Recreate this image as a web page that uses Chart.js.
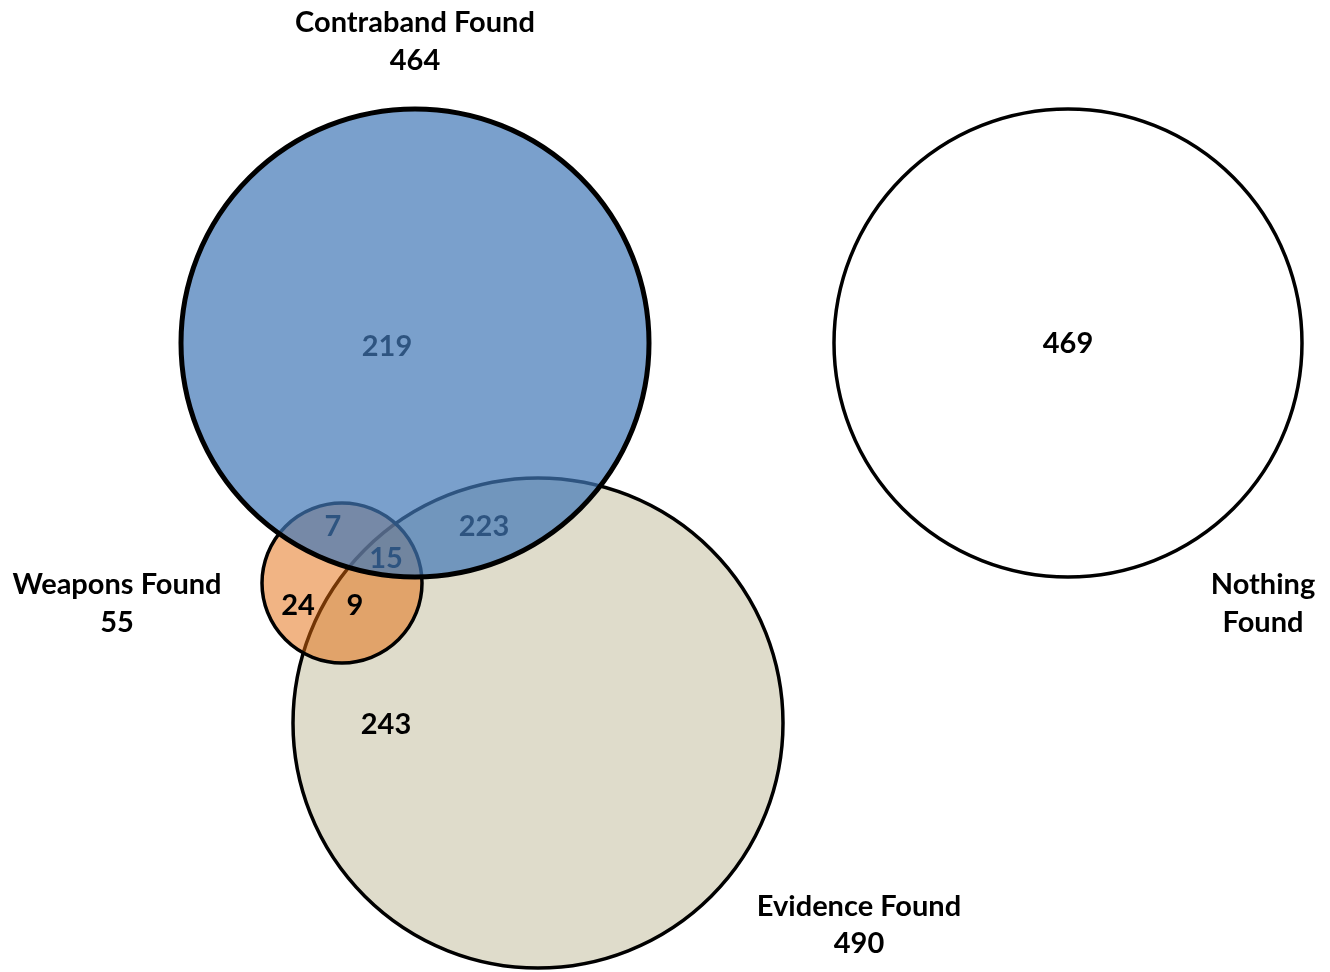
<!DOCTYPE html>
<html>
<head>
<meta charset="utf-8">
<script src="https://cdn.jsdelivr.net/npm/chart.js@4/dist/chart.umd.min.js"></script>
<style>
    body { margin: 0; background: #fff; }
    #wrap { width: 1330px; height: 972px; }
</style>
</head>
<body>
<div id="wrap"><canvas id="venn" width="1330" height="972"></canvas></div>
<script>
// sets and their totals
const setNames = ["Contraband Found", "Weapons Found", "Evidence Found", "Nothing Found"];
const setTotals = [464, 55, 490, 469];

// counts per region of the diagram
const regionNames = ["Contraband only", "Contraband + Weapons", "All three", "Contraband + Evidence",
    "Weapons only", "Weapons + Evidence", "Evidence only", "Nothing"];
const regionCounts = [219, 7, 15, 223, 24, 9, 243, 469];

// layout (chart units, the axes run 0..1330 and 0..972)
const circles = [
    { x: 415, y: 343, r: 234 },
    { x: 342, y: 583, r: 80 },
    { x: 538, y: 723, r: 245 },
    { x: 1068, y: 343, r: 234 }
];
const regionSpots = [
    [387, 347], [333, 527], [386, 559], [484, 527],
    [298, 606], [355, 606], [386, 725], [1068, 344]
];
const titleSpots = [
    [415, 23, 61], [117, 585, 623], [859, 907, 944], [1263, 585, 623]
];

const fills = ["rgba(65,119,182,0.7)", "rgba(227,105,9,0.5)", "#dfdccb", "#ffffff"];
const borders = [5, 3.5, 3.5, 3.5];
const drawOrder = [0, 1, 2, 3];

const FONT = "bold 29px Lato, 'Open Sans', sans-serif";

// bubble radius is in pixels, so convert from axis units
// (resolved at parse time, before the scales have pixels, so use the chart width)
function radiusFor(i) {
    return function (ctx) {
        const o = ctx.chart.options.scales.x;
        return circles[i].r * ctx.chart.width / (o.max - o.min);
    };
}

const labelsPlugin = {
    id: "vennLabels",
    afterDatasetDraw(chart, args) {
        // region counts go under the blue layer, like the original
        if (args.index !== 1) return;
        const c = chart.ctx;
        const sx = chart.scales.x, sy = chart.scales.y;
        c.save();
        c.font = FONT;
        c.fillStyle = "#000";
        c.textAlign = "center";
        c.textBaseline = "middle";
        regionCounts.forEach(function (n, i) {
            c.fillText(String(n), sx.getPixelForValue(regionSpots[i][0]), sy.getPixelForValue(regionSpots[i][1]));
        });
        c.restore();
    },
    afterDatasetsDraw(chart) {
        const c = chart.ctx;
        const sx = chart.scales.x, sy = chart.scales.y;
        c.save();
        c.font = FONT;
        c.fillStyle = "#000";
        c.textAlign = "center";
        c.textBaseline = "middle";
        setNames.forEach(function (name, i) {
            const p = titleSpots[i];
            let first = name, second = String(setTotals[i]);
            if (i === 3) {
                // "Nothing Found" has no total shown, split over two lines
                first = "Nothing";
                second = "Found";
            }
            c.fillText(first, sx.getPixelForValue(p[0]), sy.getPixelForValue(p[1]));
            c.fillText(second, sx.getPixelForValue(p[0]), sy.getPixelForValue(p[2]));
        });
        c.restore();
    }
};

const datasets = setNames.map(function (name, i) {
    return {
        label: name,
        data: [{ x: circles[i].x, y: circles[i].y }],
        radius: radiusFor(i),
        backgroundColor: fills[i],
        borderColor: "#000",
        borderWidth: borders[i],
        order: drawOrder[i],
        clip: false
    };
});

new Chart(document.getElementById("venn"), {
    type: "bubble",
    data: { datasets: datasets },
    options: {
        responsive: false,
        animation: false,
        events: [],
        layout: { padding: 0, autoPadding: false },
        plugins: {
            legend: { display: false },
            tooltip: { enabled: false }
        },
        scales: {
            x: { type: "linear", min: 0, max: 1330, display: false },
            y: { type: "linear", min: 0, max: 972, reverse: true, display: false }
        }
    },
    plugins: [labelsPlugin]
});
</script>
</body>
</html>
